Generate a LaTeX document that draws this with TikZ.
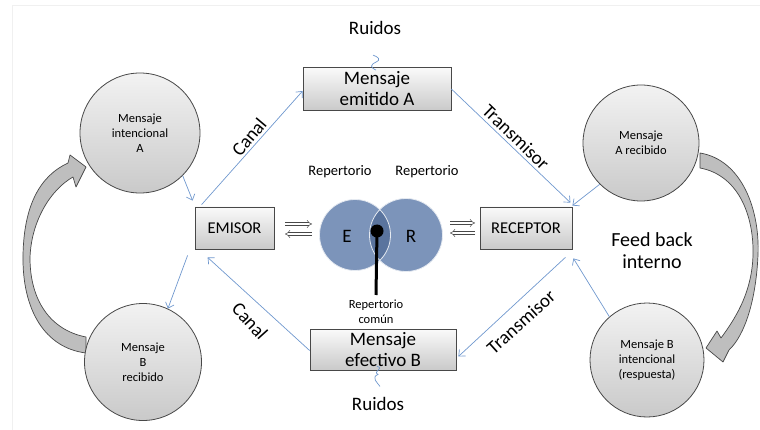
\documentclass[tikz,border=0pt]{standalone}
\usepackage{fontspec}
\setmainfont{Carlito}
\usetikzlibrary{arrows.meta,calc}

\definecolor{linkblue}{RGB}{112,152,206}
\definecolor{vennfill}{RGB}{124,148,186}
\definecolor{venndark}{RGB}{90,116,158}
\definecolor{rim}{RGB}{72,72,72}
\definecolor{ribbon}{RGB}{190,190,190}

\tikzset{
  fs/.style={font=\fontsize{#1}{#1}\selectfont},
  msgbox/.style={draw=rim, line width=0.8pt, top color=gray!4, bottom color=gray!42,
    align=center, inner sep=0pt},
  msgcirc/.style={circle, draw=rim, line width=0.8pt, top color=gray!10, bottom color=gray!42,
    align=center, inner sep=0pt, font=\fontsize{12.5}{15}\selectfont},
  link/.style={draw=linkblue, line width=0.7pt, -{Straight Barb[length=5pt,width=9pt]}},
  noise/.style={draw=linkblue, line width=0.7pt},
  swap/.style={draw=rim, line width=0.5pt, double=white, double distance=2.2pt,
    -{Implies[length=4pt]}},
  ribbonarrow/.style={fill=ribbon, draw=rim, line width=0.7pt, line join=round},
}

\begin{document}
\begin{tikzpicture}[x=1pt,y=-1pt]
\useasboundingbox (0,0) rectangle (760,430);
\draw[gray!12, line width=0.6pt] (12,430) -- (12,5) -- (760,5);

% --- boxes ---
\node[msgbox, minimum width=148pt, minimum height=43pt,
      font=\fontsize{19}{21}\selectfont] (boxA) at (377,89) {Mensaje\\emitido A};
\node[msgbox, minimum width=146pt, minimum height=41pt,
      font=\fontsize{19}{21}\selectfont] (boxB) at (383,349.5) {Mensaje\\efectivo B};
\node[msgbox, minimum width=79pt, minimum height=42pt, fs=16.5] (emisor) at (234.5,228) {EMISOR};
\node[msgbox, minimum width=92pt, minimum height=42pt, fs=16.5] (receptor) at (526,228) {RECEPTOR};

% --- feedback ribbons (drawn before the circles) ---
\draw[ribbonarrow]
  (86,353) .. controls (45,348) and (22,310) .. (23,255)
           .. controls (24,205) and (40,176) .. (68,163)
  -- (70,155) -- (86,167) -- (76,187) -- (73,177)
           .. controls (50,190) and (31,222) .. (30,258)
           .. controls (30,300) and (50,330) .. (86,337) -- cycle;
\draw[ribbonarrow]
  (700,153) .. controls (742,160) and (760,210) .. (758,255)
            .. controls (756,300) and (745,335) .. (729,350)
  -- (723,362) -- (706,348) -- (717,331) -- (721,338)
            .. controls (738,315) and (752,290) .. (753,255)
            .. controls (754,215) and (738,175) .. (700,168) -- cycle;

% --- circles ---
\node[msgcirc, minimum size=120pt] (cA)  at (140,133) {Mensaje\\intencional\\A};
\node[msgcirc, minimum size=117pt] (cBr) at (143,362) {Mensaje\\B\\recibido};
\node[msgcirc, minimum size=116pt] (cAr) at (641,143) {Mensaje\\A recibido};
\node[msgcirc, minimum size=114pt] (cBi) at (647,360) {Mensaje B\\intencional\\(respuesta)};

% --- shared repertoire ---
\node[circle, minimum size=71pt, inner sep=0pt] (E) at (355,235) {};
\node[circle, minimum size=73pt, inner sep=0pt] (R) at (406,235) {};
\fill[vennfill] (E.center) circle (35.5pt);
\fill[vennfill] (R.center) circle (36.5pt);
\begin{scope}
  \clip (E.center) circle (35.5pt);
  \fill[venndark] (R.center) circle (36.5pt);
\end{scope}
\draw[white!80!vennfill, line width=0.8pt] (E.center) circle (35.5pt) (R.center) circle (36.5pt);
\node[fs=19] at (347,236) {E};
\node[fs=19] at (411,236) {R};
\node[fs=14.5] at (340,172) {Repertorio};
\node[fs=14.5] at (427,172) {Repertorio};
\node[circle, fill=black, minimum size=13pt, inner sep=0pt] (dot) at (377,231) {};
\coordinate (foot) at (376,295);
\draw[line width=3pt] (dot.center) -- (foot);
\node[align=center, font=\fontsize{12.5}{15}\selectfont] at (376,312) {Repertorio\\común};

% --- exchange arrows ---
\coordinate (la1) at (285,224); \coordinate (la2) at (312,224);
\coordinate (lb1) at (312,234); \coordinate (lb2) at (285,234);
\coordinate (ra1) at (450,223); \coordinate (ra2) at (475,223);
\coordinate (rb1) at (475,233); \coordinate (rb2) at (450,233);
\draw[swap] (la1) -- (la2);
\draw[swap] (lb1) -- (lb2);
\draw[swap] (ra1) -- (ra2);
\draw[swap] (rb1) -- (rb2);

% --- message links ---
\draw[link] ([xshift=7pt,yshift=2pt]emisor.north west) -- ([yshift=-2pt]boxA.west);
\draw[link] (boxA.east) -- ([xshift=-2pt,yshift=4pt]receptor.north east);
\draw[link] (cAr.225) -- ([yshift=1pt]receptor.north east);
\draw[link] (cA.-45) -- ([xshift=-2pt,yshift=6pt]emisor.north west);
\draw[link] ([xshift=-7pt,yshift=-6pt]emisor.south west) -- (cBr.65);
\draw[link] ([yshift=-1pt]boxB.west) -- ([xshift=13pt,yshift=-8pt]emisor.south west);
\draw[link] ([xshift=-7pt,yshift=-8pt]receptor.south east) -- ([xshift=2pt,yshift=-7pt]boxB.east);
\draw[link] (cBi.131) -- ([xshift=1pt,yshift=-9pt]receptor.south east);

% --- link labels ---
\node[fs=19, rotate=50] at (249,137) {Canal};
\node[fs=19, rotate=-44] at (516,137) {Transmisor};
\node[fs=19, rotate=-48] at (250,321) {Canal};
\node[fs=19, rotate=42] at (521,322) {Transmisor};

% --- noise ---
\node[fs=19] (noiseA) at (375,28) {Ruidos};
\node[fs=19] (noiseB) at (378,404) {Ruidos};
\draw[noise] ([xshift=-1pt,yshift=-3pt]boxA.north)
  .. controls ++(-6,-3) and ++(-6,3) .. ++(0,-8)
  .. controls ++(5,-2) and ++(6,2) .. ++(-3,-7);
\draw[noise] ([xshift=-6pt,yshift=4pt]boxB.south)
  .. controls ++(8,2) and ++(-6,-3) .. ++(1,8)
  .. controls ++(-7,3) and ++(-3,-4) .. ++(2,12);

% --- feedback label ---
\node[align=center, font=\fontsize{20}{22}\selectfont] at (652,251) {Feed back\\interno};
\end{tikzpicture}
\end{document}
